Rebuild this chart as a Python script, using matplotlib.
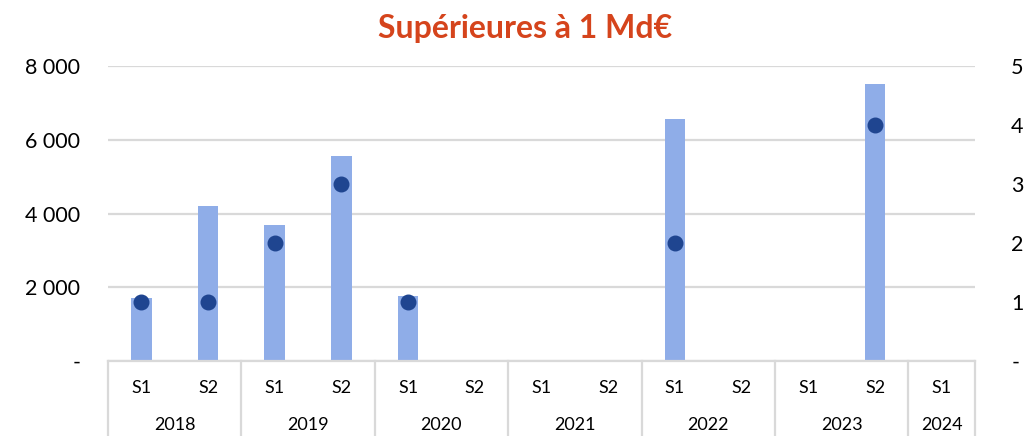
import matplotlib.pyplot as plt
import numpy as np

# semesters and years
semestres = ['S1', 'S2', 'S1', 'S2', 'S1', 'S2', 'S1', 'S2', 'S1', 'S2', 'S1', 'S2', 'S1']
annees = ['2018', '2019', '2020', '2021', '2022', '2023', '2024']
montants = [1700, 4200, 3700, 5570, 1750, 0, 0, 0, 6570, 0, 0, 7520, 0]
nombres = [1, 1, 2, 3, 1, 0, 0, 0, 2, 0, 0, 4, 0]

bar_color = '#8FADE8'
dot_color = '#1F4590'
grid_color = '#D9D9D9'

plt.rcParams['font.family'] = ['Lato', 'DejaVu Sans']

fig = plt.figure(figsize=(10.33, 4.36), dpi=100)
ax = fig.add_axes([0.1045, 0.172, 0.8394, 0.6766])
ax2 = ax.twinx()

x = np.arange(len(semestres))
ax.bar(x, montants, width=0.31, color=bar_color, zorder=2)

xs = [xi for xi, n in zip(x, nombres) if n > 0]
ns = [n for n in nombres if n > 0]
ax2.scatter(xs, ns, s=110, color=dot_color, zorder=3)

ax.set_xlim(-0.5, len(semestres) - 0.5)
ax.set_ylim(0, 8000)
ax2.set_ylim(0, 5)
ax.set_yticks([0, 2000, 4000, 6000, 8000])
ax2.set_yticks([0, 1, 2, 3, 4, 5])
ax.set_yticklabels(['-' if v == 0 else '{:,}'.format(v).replace(',', ' ') for v in ax.get_yticks().astype(int)])
ax2.set_yticklabels(['-' if v == 0 else str(v) for v in ax2.get_yticks().astype(int)])

ax.grid(axis='y', color=grid_color, linewidth=1.6, zorder=0)
ax.set_axisbelow(True)
for a in (ax, ax2):
    for s in a.spines.values():
        s.set_visible(False)
    a.tick_params(length=0, labelsize=15.5, colors='black')
ax.tick_params(axis='y', pad=20)
ax2.tick_params(axis='y', pad=26)
ax.set_xticks([])

# two level category axis
tr = ax.get_xaxis_transform()
ax.plot([-0.5, len(semestres) - 0.5], [0, 0], color=grid_color, lw=1.6, transform=tr, clip_on=False)
for xi, s in zip(x, semestres):
    ax.text(xi, -0.092, s, ha='center', va='center', fontsize=13, transform=tr)
for i, a in enumerate(annees):
    start = 2 * i - 0.5
    end = min(2 * i + 1.5, len(semestres) - 0.5)
    ax.text((start + end) / 2, -0.218, a, ha='center', va='center', fontsize=13, transform=tr)
    ax.plot([start, start], [0, -0.26], color=grid_color, lw=1.6, transform=tr, clip_on=False)
ax.plot([len(semestres) - 0.5] * 2, [0, -0.26], color=grid_color, lw=1.6, transform=tr, clip_on=False)

fig.text(0.508, 0.935, 'Supérieures à 1 Md€', ha='center', va='center',
         fontsize=23, fontweight='bold', color='#D5441C')

fig.savefig('out.png', dpi=100)
